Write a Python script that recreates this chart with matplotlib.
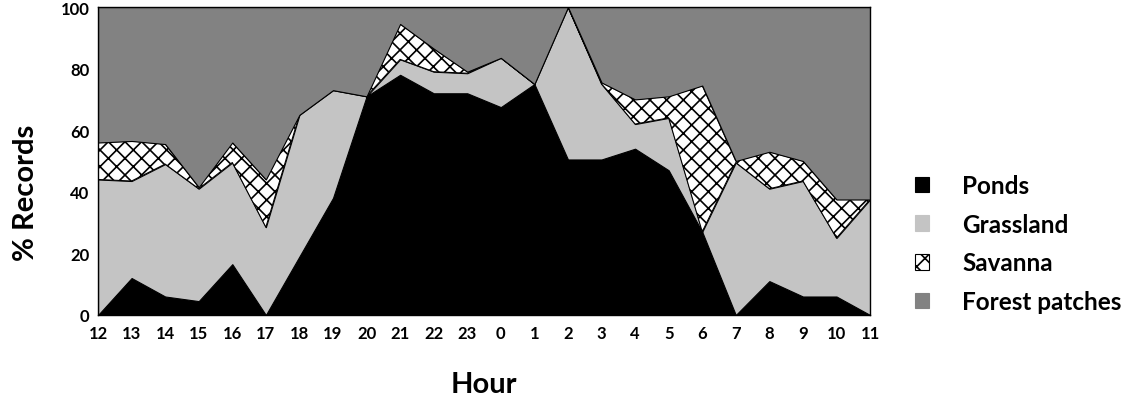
import numpy as np
import matplotlib.pyplot as plt
from matplotlib.patches import Patch

hours = ["12", "13", "14", "15", "16", "17", "18", "19", "20", "21", "22", "23",
         "0", "1", "2", "3", "4", "5", "6", "7", "8", "9", "10", "11"]

ponds = [0, 12, 6, 4.5, 16.5, 0, 19, 38, 71, 78, 72, 72,
         67.5, 75, 50.5, 50.5, 54, 47, 27, 0, 11, 6, 6, 0]
grassland = [44, 31.5, 43, 36.5, 33, 28.5, 46, 35, 0, 5, 7, 6.5,
             16, 0, 49.5, 24.5, 8, 17, 0, 49.5, 30, 37.5, 19, 37.5]
savanna = [12, 13, 6.5, 0.5, 6.5, 15.5, 0, 0, 0, 11.5, 7.5, 0.5,
           0, 0, 0, 0.5, 8, 7, 47.5, 0.5, 12, 6.5, 12.5, 0]
forest = [44, 43.5, 44.5, 58.5, 44, 56, 35, 27, 29, 5.5, 13.5, 21,
          16.5, 25, 0, 24.5, 30, 29, 25.5, 50, 47, 50, 62.5, 62.5]

labels = ["Ponds", "Grassland", "Savanna", "Forest patches"]
colors = ["#000000", "#c4c4c4", "#ffffff", "#828282"]
hatches = [None, None, "xx", None]

plt.rcParams['font.family'] = ['Lato', 'DejaVu Sans']
plt.rcParams['hatch.linewidth'] = 1.2

fig = plt.figure(figsize=(11.32, 4.02), dpi=100)
ax = fig.add_axes([0.0866, 0.214, 0.682, 0.766])

x = np.arange(len(hours))
polys = ax.stackplot(x, ponds, grassland, savanna, forest,
                     colors=colors, edgecolor="black", linewidth=0.8)
for p, h in zip(polys, hatches):
    if h:
        p.set_hatch(h)

ax.set_xlim(0, len(hours) - 1)
ax.set_ylim(0, 100)
ax.set_xticks(x)
ax.set_xticklabels(hours, fontweight="bold", fontsize=12)
ax.set_yticks(range(0, 101, 20))
ax.tick_params(axis="y", labelsize=12, length=0, pad=6)
ax.tick_params(axis="x", length=0, pad=7)
for t in ax.get_yticklabels():
    t.set_fontweight("bold")
for s in ax.spines.values():
    s.set_linewidth(1.0)

ax.set_ylabel("% Records", fontsize=21, fontweight="bold")
ax.yaxis.set_label_coords(-0.076, 0.40)
ax.set_xlabel("Hour", fontsize=21, fontweight="bold", labelpad=22)

handles = [Patch(facecolor=c, edgecolor="black" if h else c, hatch=h, linewidth=0.8)
           for c, h in zip(colors, hatches)]
fig.legend(handles, labels, loc="upper left", bbox_to_anchor=(0.808, 0.565),
           frameon=False, prop={"weight": "bold", "size": 17.5},
           borderaxespad=0, borderpad=0,
           handlelength=0.6, handleheight=0.6, handletextpad=1.35, labelspacing=0.65)

fig.savefig("out.png", dpi=100)
